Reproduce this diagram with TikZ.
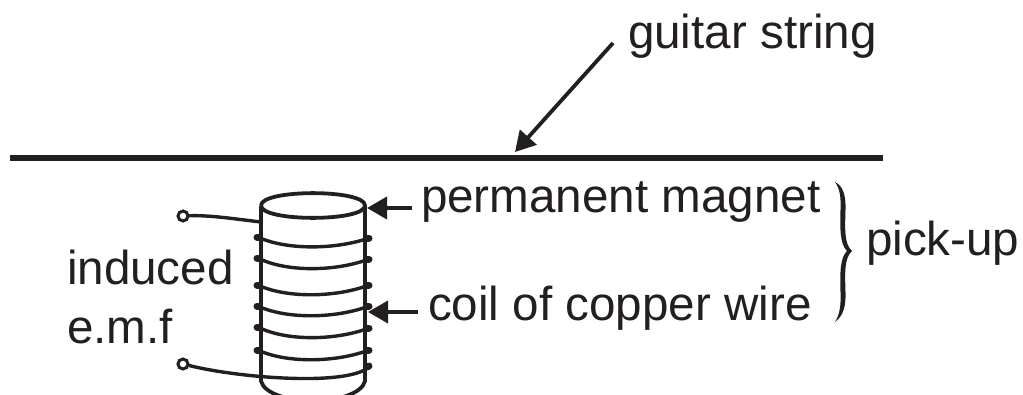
\documentclass[tikz,border=0pt]{standalone}
\usepackage{fontspec}
\setmainfont{Liberation Sans}
\usetikzlibrary{arrows.meta}
\definecolor{ink}{HTML}{231F20}
\tikzset{
  x=1pt,y=-1pt,
  lab/.style={anchor=base west,inner sep=0pt,outer sep=0pt,text=ink,font=\fontsize{47.6}{50}\selectfont},
  wire/.style={draw=ink,line width=3.4pt,line cap=round,line join=round},
  body/.style={draw=ink,line width=3.8pt,line cap=butt},
  blob/.style={draw=ink,line width=7pt,line cap=round},
  pointer/.style={draw=ink,line width=3.8pt,-{Triangle[length=20pt,width=22pt,color=ink]}},
  term/.style={circle,draw=ink,line width=3pt,fill=white,minimum size=10pt,inner sep=0pt}
}
\begin{document}
\begin{tikzpicture}
\useasboundingbox (0,0) rectangle (1023,394);
\fill[white] (0,0) rectangle (1023,394);
% string
\coordinate (sl) at (10,158);
\coordinate (sr) at (883,158);
\coordinate (st) at (515,152);
\draw[draw=ink,line width=5.5pt] (sl) -- (sr);
% labels
\node[lab] (gs) at (628,48.5) {guitar string};
\node[lab] (pm) at (421,212) {permanent magnet};
\node[lab] (cw) at (428,320) {coil of copper wire};
\node[lab] (pu) at (866,255) {pick-up};
\node[lab] (in) at (67,284) {induced};
\node[lab] (em) at (67,343) {e.m.f};
% cylinder
\begin{scope}
\clip (0,0) rectangle (1023,394);
\draw[body] (261,205.5) .. controls (261,189) and (365,189) .. (365,205.5)
            .. controls (365,222) and (261,222) .. (261,205.5);
\draw[body] (261,205.5) -- (261,381) .. controls (264,394) and (290,401) .. (313,401)
            .. controls (336,401) and (362,394) .. (365,381) -- (365,205.5);
\end{scope}
% windings
\foreach \yl/\yr/\ym in {237/238/250,258/259/272,285/285/298,306/306/319,327/328/341,350/350/363}{
  \draw[wire] (258,\yl) .. controls (285,\ym) and (335,\ym) .. (369,\yr);
  \draw[blob] (257,\yl) -- (259,\yl);
  \draw[blob] (367,\yr) -- (369,\yr);
}
% terminals
\node[term] (t1) at (183,216) {};
\node[term] (t2) at (183,364) {};
\coordinate (w1) at (261,222);
\coordinate (w2) at (369,367);
\draw[wire] (t1) .. controls (210,215) and (235,219) .. (w1);
\draw[wire] (t2) .. controls (215,372) and (260,378) .. (300,378.5) .. controls (335,379) and (360,375) .. (w2);
\draw[blob] (367,367) -- (369,366);
% pointers
\coordinate (pt) at (367,208);
\coordinate (ct) at (368,312);
\coordinate (pa) at (412,208);
\coordinate (ca) at (418,312);
\coordinate (ga) at (613,43);
\draw[pointer] (pa) -- (pt);
\draw[pointer] (ca) -- (ct);
\draw[pointer] (ga) -- (st);
% brace
\fill[ink] (835,182) .. controls (843,186) and (846,195) .. (845.5,210)
  .. controls (845,228) and (844,244) .. (852,251)
  .. controls (844,258) and (845,274) .. (845.5,292)
  .. controls (846,307) and (843,316) .. (835,322)
  .. controls (840,314) and (841,305) .. (840.5,292)
  .. controls (840,272) and (840,258) .. (847,251)
  .. controls (840,244) and (840,230) .. (840.5,210)
  .. controls (841,197) and (840,189) .. (835,182) -- cycle;
\end{tikzpicture}
\end{document}
